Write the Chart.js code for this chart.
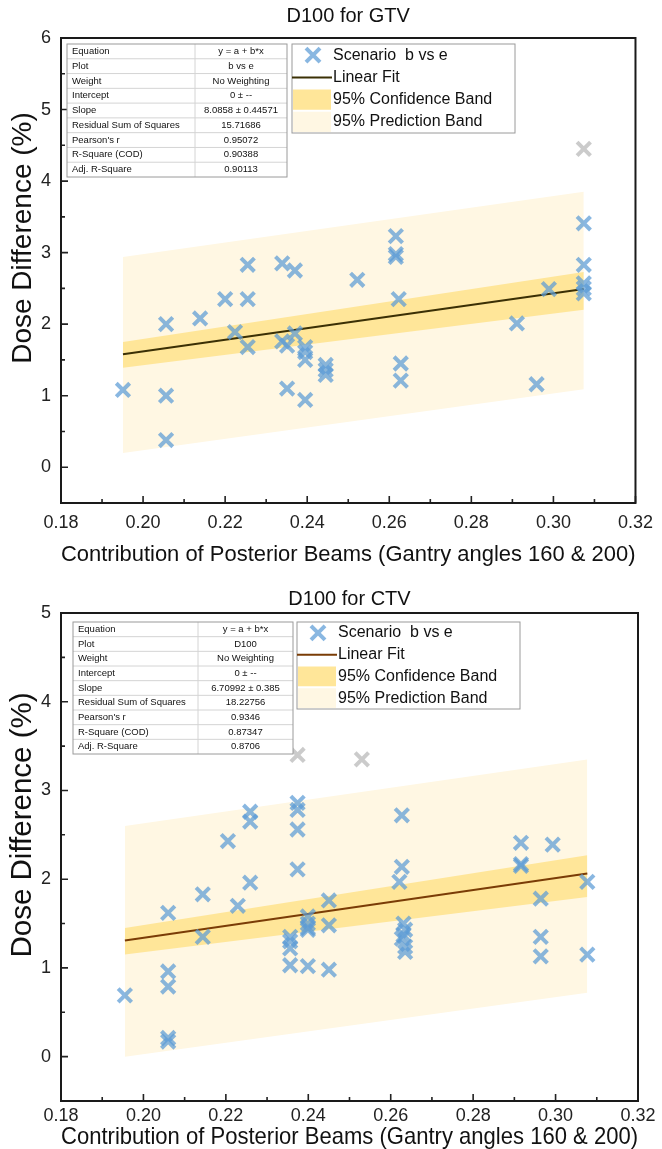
<!DOCTYPE html>
<html>
<head>
<meta charset="utf-8">
<script src="https://cdn.jsdelivr.net/npm/chart.js@4.4.1/dist/chart.umd.min.js"></script>
<style>
html, body { margin: 0; padding: 0; background: #fff; }
#wrap { position: relative; width: 662px; height: 1149px; overflow: hidden; }
.box { position: absolute; left: 0; width: 662px; }
</style>
</head>
<body>
<div id="wrap">
  <div class="box" style="top:0;height:578px"><canvas id="gtv"></canvas></div>
  <div class="box" style="top:578px;height:571px"><canvas id="ctv"></canvas></div>
</div>
<script>
// tick labels
var xTicks = [0.18, 0.20, 0.22, 0.24, 0.26, 0.28, 0.30, 0.32];
var gtvTicksY = [0, 1, 2, 3, 4, 5, 6];
var ctvTicksY = [0, 1, 2, 3, 4, 5];

// D100 for GTV - scenario b vs e
var gtvX = [0.1951, 0.2056, 0.2056, 0.2056, 0.2139, 0.2200, 0.2224, 0.2255, 0.2255, 0.2255,
            0.2339, 0.2339, 0.2351, 0.2351, 0.2370, 0.2370, 0.2395, 0.2395, 0.2395, 0.2395,
            0.2445, 0.2445, 0.2445, 0.2522, 0.2616, 0.2616, 0.2616, 0.2623, 0.2628, 0.2628,
            0.2911, 0.2959, 0.2989, 0.3074, 0.3074, 0.3074, 0.3074, 0.3074];
var gtvY = [1.08, 2.00, 1.00, 0.38, 2.08, 2.35, 1.89, 2.83, 2.35, 1.68,
            2.85, 1.76, 1.70, 1.10, 2.75, 1.87, 1.68, 1.61, 1.50, 0.94,
            1.43, 1.36, 1.29, 2.62, 3.23, 2.98, 2.94, 2.35, 1.45, 1.21,
            2.01, 1.16, 2.49, 3.41, 2.83, 2.57, 2.50, 2.43];
var gtvMaskX = [0.3074];
var gtvMaskY = [4.45];
var gtvFitX = [0.1951, 0.3074];
var gtvFitY = [1.58, 2.49];
var gtvConfHi = [1.75, 2.73];
var gtvConfLo = [1.39, 2.20];
var gtvPredHi = [2.94, 3.85];
var gtvPredLo = [0.20, 1.09];
var gtvStats = [
  ["Equation", "y = a + b*x"], ["Plot", "b vs e"], ["Weight", "No Weighting"],
  ["Intercept", "0 \u00b1 --"], ["Slope", "8.0858 \u00b1 0.44571"],
  ["Residual Sum of Squares", "15.71686"], ["Pearson's r", "0.95072"],
  ["R-Square (COD)", "0.90388"], ["Adj. R-Square", "0.90113"]
];

// D100 for CTV - scenario b vs e
var ctvX = [0.1955, 0.2060, 0.2060, 0.2060, 0.2060, 0.2060, 0.2144, 0.2144, 0.2205, 0.2229,
            0.2259, 0.2259, 0.2259, 0.2356, 0.2356, 0.2356, 0.2356, 0.2374, 0.2374, 0.2374,
            0.2374, 0.2399, 0.2399, 0.2399, 0.2399, 0.2399, 0.2450, 0.2450, 0.2450, 0.2627,
            0.2627, 0.2621, 0.2631, 0.2635, 0.2631, 0.2627, 0.2635, 0.2635, 0.2916, 0.2916,
            0.2916, 0.2993, 0.2964, 0.2964, 0.2964, 0.3077, 0.3077];
var ctvY = [0.69, 1.62, 0.96, 0.79, 0.21, 0.17, 1.83, 1.35, 2.43, 1.70,
            2.76, 2.65, 1.96, 1.35, 1.30, 1.22, 1.03, 2.86, 2.78, 2.56,
            2.11, 1.58, 1.50, 1.45, 1.43, 1.02, 1.76, 1.48, 0.98, 2.72,
            2.14, 1.97, 1.50, 1.43, 1.37, 1.33, 1.24, 1.18, 2.41, 2.17,
            2.15, 2.39, 1.78, 1.35, 1.13, 1.97, 1.15];
var ctvMaskX = [0.2374, 0.2530];
var ctvMaskY = [3.40, 3.35];
var ctvFitX = [0.1955, 0.3077];
var ctvFitY = [1.31, 2.065];
var ctvConfHi = [1.45, 2.27];
var ctvConfLo = [1.15, 1.80];
var ctvPredHi = [2.60, 3.35];
var ctvPredLo = [0.00, 0.72];
var ctvStats = [
  ["Equation", "y = a + b*x"], ["Plot", "D100"], ["Weight", "No Weighting"],
  ["Intercept", "0 \u00b1 --"], ["Slope", "6.70992 \u00b1 0.385"],
  ["Residual Sum of Squares", "18.22756"], ["Pearson's r", "0.9346"],
  ["R-Square (COD)", "0.87347"], ["Adj. R-Square", "0.8706"]
];

var legendLabels = ["Scenario  b vs e", "Linear Fit", "95% Confidence Band", "95% Prediction Band"];

var FONT = "'Liberation Sans', Arial, sans-serif";
var BLUE = "rgba(91,155,213,0.72)";
var GREY = "rgba(185,185,185,0.75)";
var CONF = "#ffe699";
var PRED = "#fff7e3";

function pts(xs, ys) {
  return xs.map(function (x, i) { return { x: x, y: ys[i] }; });
}

// draws frame, inward ticks, titles, stats table and legend
var decor = {
  id: "decor",
  afterDraw: function (chart, args, o) {
    var ctx = chart.ctx, ca = chart.chartArea;
    var xs = chart.scales.x, ys = chart.scales.y;
    ctx.save();
    // ticks pointing into the plot
    ctx.strokeStyle = "#222";
    ctx.lineWidth = 1.6;
    ctx.beginPath();
    for (var i = 0; i < xTicks.length; i++) {
      var px = xs.getPixelForValue(xTicks[i]);
      ctx.moveTo(px, ca.bottom); ctx.lineTo(px, ca.bottom - 7);
      if (i < xTicks.length - 1) {
        var pm = xs.getPixelForValue((xTicks[i] + xTicks[i + 1]) / 2);
        ctx.moveTo(pm, ca.bottom); ctx.lineTo(pm, ca.bottom - 4);
      }
    }
    for (var j = 0; j < o.yTicks.length; j++) {
      var py = ys.getPixelForValue(o.yTicks[j]);
      ctx.moveTo(ca.left, py); ctx.lineTo(ca.left + 7, py);
      var ph = ys.getPixelForValue(o.yTicks[j] + 0.5);
      if (o.yTicks[j] + 0.5 < ys.max) { ctx.moveTo(ca.left, ph); ctx.lineTo(ca.left + 4, ph); }
    }
    ctx.stroke();
    // frame
    ctx.lineWidth = 2;
    ctx.strokeStyle = "#1a1a1a";
    ctx.strokeRect(ca.left, ca.top, ca.right - ca.left, ca.bottom - ca.top);
    // chart title
    ctx.fillStyle = "#111";
    ctx.font = o.titleSize + "px " + FONT;
    ctx.textAlign = "center";
    ctx.textBaseline = "middle";
    ctx.fillText(o.title, (ca.left + ca.right) / 2, o.titleY);
    // y axis title
    ctx.save();
    ctx.translate(o.yTitleX, o.yTitleY);
    ctx.rotate(-Math.PI / 2);
    ctx.font = o.yTitleSize + "px " + FONT;
    ctx.fillText("Dose Difference (%)", 0, 0);
    ctx.restore();
    // stats table
    var t = o.table, rh = (t.bottom - t.top) / o.stats.length;
    ctx.fillStyle = "#fff";
    ctx.fillRect(t.left, t.top, t.right - t.left, t.bottom - t.top);
    ctx.strokeStyle = "#d4d4d4";
    ctx.lineWidth = 1;
    ctx.beginPath();
    for (var r = 1; r < o.stats.length; r++) {
      ctx.moveTo(t.left, t.top + r * rh); ctx.lineTo(t.right, t.top + r * rh);
    }
    ctx.moveTo(t.mid, t.top); ctx.lineTo(t.mid, t.bottom);
    ctx.stroke();
    ctx.strokeStyle = "#9a9a9a";
    ctx.strokeRect(t.left, t.top, t.right - t.left, t.bottom - t.top);
    ctx.fillStyle = "#111";
    ctx.font = "9.5px " + FONT;
    for (var k = 0; k < o.stats.length; k++) {
      var cy = t.top + (k + 0.5) * rh;
      ctx.textAlign = "left";
      ctx.fillText(o.stats[k][0], t.left + 5, cy);
      ctx.textAlign = "center";
      ctx.fillText(o.stats[k][1], (t.mid + t.right) / 2, cy);
    }
    // legend
    var L = o.legend, ds = chart.data.datasets;
    ctx.fillStyle = "#fff";
    ctx.fillRect(L.left, L.top, L.width, L.height);
    ctx.strokeStyle = "#9a9a9a";
    ctx.strokeRect(L.left, L.top, L.width, L.height);
    var rowH = L.height / 4;
    for (var n = 0; n < 4; n++) {
      var ry = L.top + (n + 0.5) * rowH;
      var sx = L.left + 2, sw = 38;
      if (n === 0) {
        ctx.strokeStyle = ds[6].borderColor;
        ctx.lineWidth = 4;
        ctx.beginPath();
        var c = sx + sw / 2, d = 7;
        ctx.moveTo(c - d, ry - d); ctx.lineTo(c + d, ry + d);
        ctx.moveTo(c - d, ry + d); ctx.lineTo(c + d, ry - d);
        ctx.stroke();
      } else if (n === 1) {
        ctx.strokeStyle = ds[4].borderColor;
        ctx.lineWidth = 2;
        ctx.beginPath(); ctx.moveTo(sx - 2, ry); ctx.lineTo(sx + sw, ry); ctx.stroke();
      } else {
        ctx.fillStyle = n === 2 ? ds[2].backgroundColor : ds[0].backgroundColor;
        ctx.fillRect(L.left + 1, ry - rowH / 2 + 1, sw, rowH - 2);
      }
      ctx.fillStyle = "#111";
      ctx.font = "16px " + FONT;
      ctx.textAlign = "left";
      ctx.fillText(legendLabels[n], L.left + sw + 3, ry);
    }
    ctx.restore();
  }
};

function makeChart(id, d) {
  return new Chart(document.getElementById(id), {
    type: "scatter",
    data: {
      datasets: [
        { type: "line", data: pts(d.fitX, d.predHi), fill: "+1", backgroundColor: PRED, borderWidth: 0, pointRadius: 0, order: 4 },
        { type: "line", data: pts(d.fitX, d.predLo), fill: false, borderWidth: 0, pointRadius: 0, order: 4 },
        { type: "line", data: pts(d.fitX, d.confHi), fill: "+1", backgroundColor: CONF, borderWidth: 0, pointRadius: 0, order: 3 },
        { type: "line", data: pts(d.fitX, d.confLo), fill: false, borderWidth: 0, pointRadius: 0, order: 3 },
        { type: "line", data: pts(d.fitX, d.fitY), fill: false, borderColor: d.fitColor, borderWidth: 2, pointRadius: 0, order: 2 },
        { data: pts(d.maskX, d.maskY), pointStyle: "crossRot", pointRadius: 9.5, borderWidth: 4, borderColor: GREY, backgroundColor: GREY, order: 1 },
        { label: legendLabels[0], data: pts(d.x, d.y), pointStyle: "crossRot", pointRadius: 9.5, borderWidth: 4, borderColor: BLUE, backgroundColor: BLUE, order: 0 }
      ]
    },
    options: {
      responsive: true,
      maintainAspectRatio: false,
      animation: false,
      layout: { padding: { top: d.padTop, right: 24, left: 0, bottom: 0 } },
      plugins: {
        legend: { display: false },
        tooltip: { enabled: false },
        decor: { title: d.title, titleY: d.titleY, titleSize: 20, yTicks: d.yTicks, stats: d.stats, table: d.table, legend: d.legend,
                 yTitleX: 23, yTitleY: d.yTitleY, yTitleSize: d.yTitleSize }
      },
      scales: {
        x: {
          type: "linear", min: 0.18, max: 0.32,
          afterBuildTicks: function (s) { s.ticks = xTicks.map(function (v) { return { value: v }; }); },
          afterFit: function (s) { s.height = d.xHeight; },
          ticks: { callback: function (v) { return v.toFixed(2); }, font: { size: 18, family: FONT }, color: "#222", padding: d.xTickPad, maxRotation: 0, autoSkip: false },
          grid: { display: false, drawTicks: false },
          border: { display: false },
          title: { display: true, text: "Contribution of Posterior Beams (Gantry angles 160 & 200)", color: "#111",
                   font: { size: d.xTitleSize, family: FONT, lineHeight: 1.0 }, padding: { top: 0, bottom: d.xTitlePad } }
        },
        y: {
          min: -0.5, max: d.yMax,
          afterBuildTicks: function (s) { s.ticks = d.yTicks.map(function (v) { return { value: v }; }); },
          afterFit: function (s) { s.width = 61; },
          ticks: { font: { size: 18, family: FONT }, color: "#222", padding: 10 },
          grid: { display: false, drawTicks: false },
          border: { display: false },
          title: { display: false }
        }
      }
    },
    plugins: [decor]
  });
}

makeChart("gtv", {
  x: gtvX, y: gtvY, maskX: gtvMaskX, maskY: gtvMaskY, fitX: gtvFitX, fitY: gtvFitY,
  confHi: gtvConfHi, confLo: gtvConfLo, predHi: gtvPredHi, predLo: gtvPredLo,
  fitColor: "#3b3005", title: "D100 for GTV", titleY: 16, padTop: 38, yMax: 6, yTicks: gtvTicksY,
  xHeight: 75, xTickPad: 9, xTitleSize: 22.2, xTitlePad: 12, yTitleSize: 28, yTitleY: 238,
  stats: gtvStats, table: { left: 67, right: 287, top: 44, bottom: 177, mid: 195 },
  legend: { left: 292, top: 44, width: 223, height: 89 }
});

makeChart("ctv", {
  x: ctvX, y: ctvY, maskX: ctvMaskX, maskY: ctvMaskY, fitX: ctvFitX, fitY: ctvFitY,
  confHi: ctvConfHi, confLo: ctvConfLo, predHi: ctvPredHi, predLo: ctvPredLo,
  fitColor: "#7a3c06", title: "D100 for CTV", titleY: 21, padTop: 35, yMax: 5, yTicks: ctvTicksY,
  xHeight: 48, xTickPad: 4, xTitleSize: 24, xTitlePad: 0, yTitleSize: 29.5, yTitleY: 247,
  stats: ctvStats, table: { left: 73, right: 293, top: 44, bottom: 176, mid: 198 },
  legend: { left: 297, top: 44, width: 223, height: 87 }
});
</script>
</body>
</html>
